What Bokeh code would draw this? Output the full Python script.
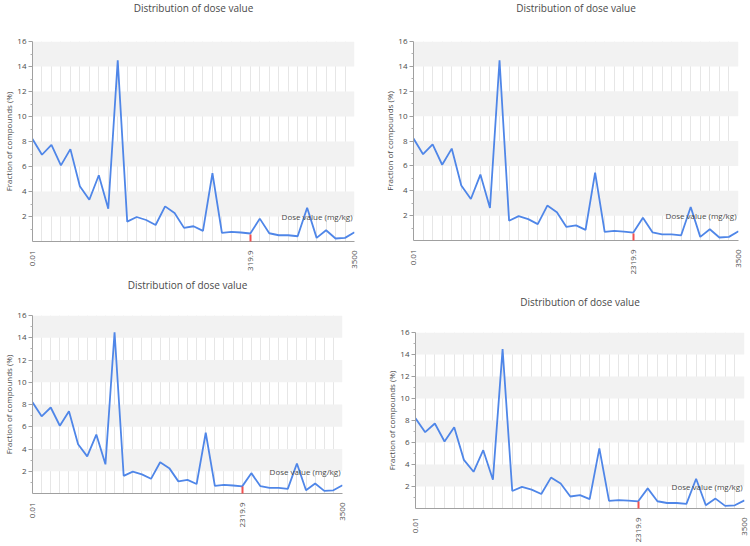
import math
from bokeh.plotting import figure
from bokeh.models import FixedTicker, Title, Label, Range1d
from bokeh.layouts import column, row
from bokeh.embed import file_html
from bokeh.resources import INLINE

# ---- data ----
fraction_pct = [8.2, 6.94, 7.73, 6.09, 7.39, 4.42, 3.34, 5.3, 2.62, 14.49,
                1.59, 1.96, 1.72, 1.32, 2.81, 2.28, 1.09, 1.22, 0.85, 5.46,
                0.69, 0.77, 0.72, 0.64, 1.83, 0.66, 0.5, 0.5, 0.42, 2.7,
                0.29, 0.9, 0.24, 0.29, 0.74]
bin_index = list(range(len(fraction_pct)))
dose_tick_index = [0, 23, 34]
dose_marker_index = [23]
dose_labels_a = ["0.01", "319.9", "3500"]
dose_labels_b = ["0.01", "2319.9", "3500"]
y_ticks = [2, 4, 6, 8, 10, 12, 14, 16]
y_band_ticks = [0, 2, 4, 6, 8, 10, 12, 14, 16]
y_minor = [1, 3, 5, 7, 9, 11, 13, 15]
title_text = "Distribution of dose value"
y_label = "Fraction of compounds (%)"
x_label = "Dose value (mg/kg)"

FONT = "Open Sans"
TXT = "#4a4a4a"
LINE = "#4f86e8"


def make_panel(labels, w, h, bl, br, bt, bb, lh):
    p = figure(width=w, height=h, output_backend="svg", toolbar_location=None,
               x_range=Range1d(bin_index[0], bin_index[-1]), y_range=Range1d(0, 16),
               min_border_left=bl, min_border_right=br, min_border_top=bt,
               min_border_bottom=bb, background_fill_color="white",
               border_fill_color="white", outline_line_color=None)
    # trailing empty line keeps a gap between the title and the plot area
    p.add_layout(Title(text=title_text + "\n", align="center", text_font=FONT,
                       text_font_size="10px", text_font_style="normal",
                       text_color=TXT, standoff=0, vertical_align="top",
                       text_line_height=lh), "above")
    # y axis
    ya = p.yaxis[0]
    ya.ticker = FixedTicker(ticks=y_ticks, minor_ticks=y_minor)
    ya.axis_label = y_label
    ya.axis_label_text_font = FONT
    ya.axis_label_text_font_size = "8px"
    ya.axis_label_text_font_style = "normal"
    ya.axis_label_text_color = TXT
    ya.axis_label_standoff = 0
    ya.major_label_text_font = FONT
    ya.major_label_text_font_size = "8px"
    ya.major_label_text_color = TXT
    ya.major_label_standoff = 2
    ya.axis_line_color = "#a0a0a0"
    ya.major_tick_line_color = "#a0a0a0"
    ya.minor_tick_line_color = "#b0b0b0"
    ya.major_tick_out = 4
    ya.major_tick_in = 0
    ya.minor_tick_out = 2
    ya.minor_tick_in = 0
    # x axis
    xa = p.below[0]
    xa.ticker = FixedTicker(ticks=dose_tick_index, minor_ticks=dose_marker_index)
    xa.major_label_overrides = {i: s for i, s in zip(dose_tick_index, labels)}
    xa.major_label_orientation = math.pi / 2
    xa.major_label_text_font = FONT
    xa.major_label_text_font_size = "8px"
    xa.major_label_text_color = TXT
    xa.major_label_standoff = 3
    xa.axis_line_color = "#a0a0a0"
    xa.major_tick_line_color = None
    xa.minor_tick_line_color = "#f05050"
    xa.minor_tick_line_width = 2
    xa.minor_tick_in = 7
    xa.minor_tick_out = 0
    # grids
    p.xgrid.ticker = FixedTicker(ticks=bin_index)
    p.xgrid.grid_line_color = "#e6e6e6"
    p.xgrid.grid_line_width = 1
    p.ygrid.ticker = FixedTicker(ticks=y_band_ticks)
    p.ygrid.grid_line_color = None
    p.ygrid.band_fill_color = "#f2f2f2"
    p.ygrid.band_fill_alpha = 1.0
    # series
    p.line(bin_index, fraction_pct, line_color=LINE, line_width=1.8)
    p.add_layout(Label(x=bin_index[-1], y=2, text=x_label, text_align="right",
                       text_baseline="middle", x_offset=-2, text_font=FONT,
                       text_font_size="8px", text_color=TXT))
    return p


p1 = make_panel(dose_labels_a, 375, 277, 30, 21, 39, 36, 1.8)
p2 = make_panel(dose_labels_b, 374, 277, 38, 11, 39, 37, 1.8)
p3 = make_panel(dose_labels_b, 375, 268, 30, 33, 36, 52, 1.6)
p4 = make_panel(dose_labels_b, 374, 268, 40, 5, 55, 37, 1.6)

# each plot in its own box so that the frames are not aligned across a row
layout = column(row(column(p1), column(p2)), row(column(p3), column(p4)))
open("out.html", "w").write(file_html(layout, INLINE))
